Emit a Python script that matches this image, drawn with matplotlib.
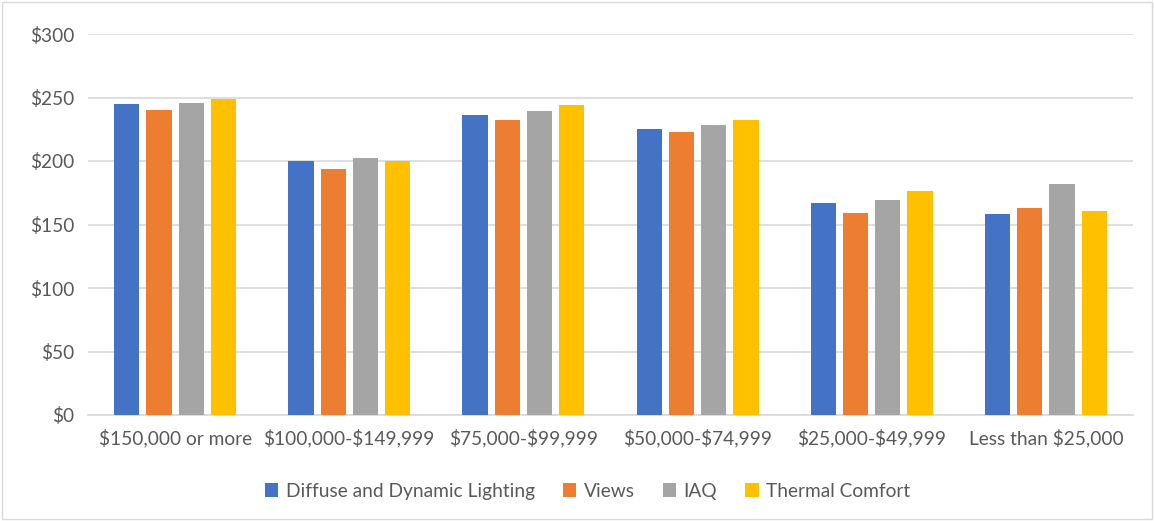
import numpy as np
import matplotlib.pyplot as plt
from matplotlib.ticker import FuncFormatter

plt.rcParams['font.family'] = ['Lato', 'DejaVu Sans']
plt.rcParams['text.parse_math'] = False

categories = ['$150,000 or more', '$100,000-$149,999', '$75,000-$99,999',
              '$50,000-$74,999', '$25,000-$49,999', 'Less than $25,000']
series_names = ['Diffuse and Dynamic Lighting', 'Views', 'IAQ', 'Thermal Comfort']
lighting = [245, 200, 236, 225, 167, 158]
views = [240, 194, 232, 223, 159, 163]
iaq = [246, 202, 239, 228, 169, 182]
thermal = [249, 200, 244, 232, 176, 161]
colors = ['#4472C4', '#ED7D31', '#A5A5A5', '#FFC000']

fig = plt.figure(figsize=(11.54, 5.21), dpi=100)
ax = fig.add_axes([88/1154, 1-415/521, (1133-88)/1154, (415-34)/521])

x = np.arange(len(categories))
step = 0.185
width = 0.145
for k, (vals, name) in enumerate(zip([lighting, views, iaq, thermal], series_names)):
    ax.bar(x + (k-1.5)*step, vals, width, color=colors[k], label=name, zorder=3)

ax.set_xlim(-0.5, len(categories)-0.5)
ax.set_ylim(0, 300)
ax.set_yticks(range(0, 301, 50))
ax.yaxis.set_major_formatter(FuncFormatter(lambda v, p: '${:d}'.format(int(v))))
ax.grid(axis='y', color='#d9d9d9', linewidth=1.2, zorder=0)
for s in ['top', 'right', 'left']:
    ax.spines[s].set_visible(False)
ax.spines['bottom'].set_color('#d9d9d9')
ax.spines['bottom'].set_linewidth(1.2)
ax.tick_params(length=0, labelsize=13.8, colors='#595959', pad=10)
ax.set_xticks(x)
ax.set_xticklabels(categories)

ax.legend(loc='upper center', bbox_to_anchor=(0.478, -0.132), ncol=4, frameon=False,
          fontsize=13.8, labelcolor='#595959', handlelength=0.7, handleheight=0.7,
          handletextpad=0.4, columnspacing=1.45)

fig.patches.append(plt.Rectangle((0.002, 0.004), 0.996, 0.992, transform=fig.transFigure,
                                 fill=False, edgecolor='#d9d9d9', linewidth=1))

fig.savefig('out.png', dpi=100)
